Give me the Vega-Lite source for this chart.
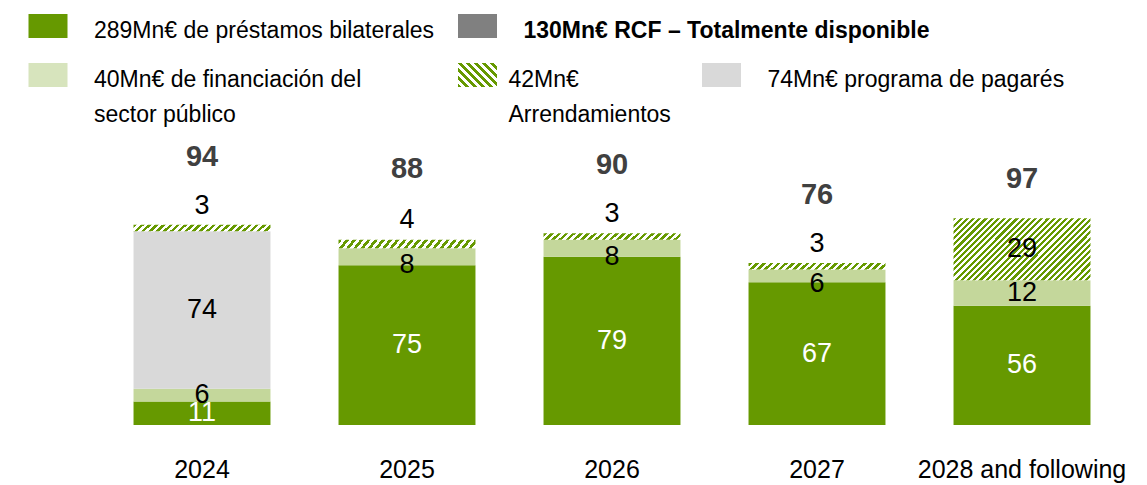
{
  "$schema": "https://vega.github.io/schema/vega-lite/v6.json",
  "width": 1147,
  "height": 425,
  "autosize": {"type": "none"},
  "padding": {"left": 0, "top": 0, "right": 0, "bottom": 60},
  "background": "white",
  "config": {"view": {"stroke": null}, "font": "Liberation Sans", "text": {"font": "Liberation Sans"}},
  "datasets": {
    "segments": [
      {"year": "2024", "cat": "bil", "value": 11},
      {"year": "2024", "cat": "pub", "value": 6},
      {"year": "2024", "cat": "pag", "value": 74},
      {"year": "2024", "cat": "arr", "value": 3},
      {"year": "2025", "cat": "bil", "value": 75},
      {"year": "2025", "cat": "pub", "value": 8},
      {"year": "2025", "cat": "arr", "value": 4},
      {"year": "2026", "cat": "bil", "value": 79},
      {"year": "2026", "cat": "pub", "value": 8},
      {"year": "2026", "cat": "arr", "value": 3},
      {"year": "2027", "cat": "bil", "value": 67},
      {"year": "2027", "cat": "pub", "value": 6},
      {"year": "2027", "cat": "arr", "value": 3},
      {"year": "2028 and following", "cat": "bil", "value": 56},
      {"year": "2028 and following", "cat": "pub", "value": 12},
      {"year": "2028 and following", "cat": "arr", "value": 29}
    ],
    "totals": [
      {"year": "2024", "total": 94},
      {"year": "2025", "total": 88},
      {"year": "2026", "total": 90},
      {"year": "2027", "total": 76},
      {"year": "2028 and following", "total": 97}
    ],
    "legend": [
      {"key": "bil", "label": "289Mn€ de préstamos bilaterales", "col": 1, "row": 1},
      {"key": "rcf", "label": "130Mn€ RCF – Totalmente disponible", "col": 2, "row": 1},
      {"key": "pub", "label": "40Mn€ de financiación del\nsector público", "col": 1, "row": 2},
      {"key": "arr", "label": "42Mn€\nArrendamientos", "col": 2, "row": 2},
      {"key": "pag", "label": "74Mn€ programa de pagarés", "col": 3, "row": 2}
    ]
  },
  "resolve": {"scale": {"x": "independent", "y": "independent", "fill": "independent", "color": "independent"}},
  "layer": [
    {
      "layer": [
        {
          "data": {"name": "segments"},
          "transform": [
            {"calculate": "indexof(['bil','pub','pag','arr'], datum.cat)", "as": "ord"},
            {"stack": "value", "groupby": ["year"], "sort": [{"field": "ord", "order": "ascending"}], "as": ["y0", "y1"]}
          ],
          "mark": {"type": "bar", "strokeWidth": 0},
          "encoding": {
            "x": {
              "field": "year", "type": "nominal",
              "scale": {"domain": ["2024", "2025", "2026", "2027", "2028 and following"], "range": [99.5, 1124.5], "paddingInner": 0.332, "paddingOuter": 0.166},
              "axis": {"title": null, "domain": false, "ticks": false, "tickSize": 0, "grid": false, "labelAngle": 0, "labelFontSize": 25, "labelColor": "black", "labelPadding": 32, "labelFont": "Liberation Sans", "labelLimit": 0, "labelOverlap": false}
            },
            "y": {"field": "y0", "type": "quantitative", "scale": {"domain": [0, 199.5], "zero": false, "nice": false}, "axis": null},
            "y2": {"field": "y1"},
            "fill": {
              "condition": [
                {
                  "test": "datum.cat == 'arr' && datum.value >= 10",
                  "value": {"gradient": "linear", "x1": 0, "y1": 0, "x2": 1.206, "y2": 0.543, "stops": [
                    {"offset": 0, "color": "#669900"}, {"offset": 0.015625, "color": "#669900"}, {"offset": 0.015625, "color": "#ffffff"}, {"offset": 0.03125, "color": "#ffffff"},
                    {"offset": 0.03125, "color": "#669900"}, {"offset": 0.046875, "color": "#669900"}, {"offset": 0.046875, "color": "#ffffff"}, {"offset": 0.0625, "color": "#ffffff"},
                    {"offset": 0.0625, "color": "#669900"}, {"offset": 0.078125, "color": "#669900"}, {"offset": 0.078125, "color": "#ffffff"}, {"offset": 0.09375, "color": "#ffffff"},
                    {"offset": 0.09375, "color": "#669900"}, {"offset": 0.109375, "color": "#669900"}, {"offset": 0.109375, "color": "#ffffff"}, {"offset": 0.125, "color": "#ffffff"},
                    {"offset": 0.125, "color": "#669900"}, {"offset": 0.140625, "color": "#669900"}, {"offset": 0.140625, "color": "#ffffff"}, {"offset": 0.15625, "color": "#ffffff"},
                    {"offset": 0.15625, "color": "#669900"}, {"offset": 0.171875, "color": "#669900"}, {"offset": 0.171875, "color": "#ffffff"}, {"offset": 0.1875, "color": "#ffffff"},
                    {"offset": 0.1875, "color": "#669900"}, {"offset": 0.203125, "color": "#669900"}, {"offset": 0.203125, "color": "#ffffff"}, {"offset": 0.21875, "color": "#ffffff"},
                    {"offset": 0.21875, "color": "#669900"}, {"offset": 0.234375, "color": "#669900"}, {"offset": 0.234375, "color": "#ffffff"}, {"offset": 0.25, "color": "#ffffff"},
                    {"offset": 0.25, "color": "#669900"}, {"offset": 0.265625, "color": "#669900"}, {"offset": 0.265625, "color": "#ffffff"}, {"offset": 0.28125, "color": "#ffffff"},
                    {"offset": 0.28125, "color": "#669900"}, {"offset": 0.296875, "color": "#669900"}, {"offset": 0.296875, "color": "#ffffff"}, {"offset": 0.3125, "color": "#ffffff"},
                    {"offset": 0.3125, "color": "#669900"}, {"offset": 0.328125, "color": "#669900"}, {"offset": 0.328125, "color": "#ffffff"}, {"offset": 0.34375, "color": "#ffffff"},
                    {"offset": 0.34375, "color": "#669900"}, {"offset": 0.359375, "color": "#669900"}, {"offset": 0.359375, "color": "#ffffff"}, {"offset": 0.375, "color": "#ffffff"},
                    {"offset": 0.375, "color": "#669900"}, {"offset": 0.390625, "color": "#669900"}, {"offset": 0.390625, "color": "#ffffff"}, {"offset": 0.40625, "color": "#ffffff"},
                    {"offset": 0.40625, "color": "#669900"}, {"offset": 0.421875, "color": "#669900"}, {"offset": 0.421875, "color": "#ffffff"}, {"offset": 0.4375, "color": "#ffffff"},
                    {"offset": 0.4375, "color": "#669900"}, {"offset": 0.453125, "color": "#669900"}, {"offset": 0.453125, "color": "#ffffff"}, {"offset": 0.46875, "color": "#ffffff"},
                    {"offset": 0.46875, "color": "#669900"}, {"offset": 0.484375, "color": "#669900"}, {"offset": 0.484375, "color": "#ffffff"}, {"offset": 0.5, "color": "#ffffff"},
                    {"offset": 0.5, "color": "#669900"}, {"offset": 0.515625, "color": "#669900"}, {"offset": 0.515625, "color": "#ffffff"}, {"offset": 0.53125, "color": "#ffffff"},
                    {"offset": 0.53125, "color": "#669900"}, {"offset": 0.546875, "color": "#669900"}, {"offset": 0.546875, "color": "#ffffff"}, {"offset": 0.5625, "color": "#ffffff"},
                    {"offset": 0.5625, "color": "#669900"}, {"offset": 0.578125, "color": "#669900"}, {"offset": 0.578125, "color": "#ffffff"}, {"offset": 0.59375, "color": "#ffffff"},
                    {"offset": 0.59375, "color": "#669900"}, {"offset": 0.609375, "color": "#669900"}, {"offset": 0.609375, "color": "#ffffff"}, {"offset": 0.625, "color": "#ffffff"},
                    {"offset": 0.625, "color": "#669900"}, {"offset": 0.640625, "color": "#669900"}, {"offset": 0.640625, "color": "#ffffff"}, {"offset": 0.65625, "color": "#ffffff"},
                    {"offset": 0.65625, "color": "#669900"}, {"offset": 0.671875, "color": "#669900"}, {"offset": 0.671875, "color": "#ffffff"}, {"offset": 0.6875, "color": "#ffffff"},
                    {"offset": 0.6875, "color": "#669900"}, {"offset": 0.703125, "color": "#669900"}, {"offset": 0.703125, "color": "#ffffff"}, {"offset": 0.71875, "color": "#ffffff"},
                    {"offset": 0.71875, "color": "#669900"}, {"offset": 0.734375, "color": "#669900"}, {"offset": 0.734375, "color": "#ffffff"}, {"offset": 0.75, "color": "#ffffff"},
                    {"offset": 0.75, "color": "#669900"}, {"offset": 0.765625, "color": "#669900"}, {"offset": 0.765625, "color": "#ffffff"}, {"offset": 0.78125, "color": "#ffffff"},
                    {"offset": 0.78125, "color": "#669900"}, {"offset": 0.796875, "color": "#669900"}, {"offset": 0.796875, "color": "#ffffff"}, {"offset": 0.8125, "color": "#ffffff"},
                    {"offset": 0.8125, "color": "#669900"}, {"offset": 0.828125, "color": "#669900"}, {"offset": 0.828125, "color": "#ffffff"}, {"offset": 0.84375, "color": "#ffffff"},
                    {"offset": 0.84375, "color": "#669900"}, {"offset": 0.859375, "color": "#669900"}, {"offset": 0.859375, "color": "#ffffff"}, {"offset": 0.875, "color": "#ffffff"},
                    {"offset": 0.875, "color": "#669900"}, {"offset": 0.890625, "color": "#669900"}, {"offset": 0.890625, "color": "#ffffff"}, {"offset": 0.90625, "color": "#ffffff"},
                    {"offset": 0.90625, "color": "#669900"}, {"offset": 0.921875, "color": "#669900"}, {"offset": 0.921875, "color": "#ffffff"}, {"offset": 0.9375, "color": "#ffffff"},
                    {"offset": 0.9375, "color": "#669900"}, {"offset": 0.953125, "color": "#669900"}, {"offset": 0.953125, "color": "#ffffff"}, {"offset": 0.96875, "color": "#ffffff"},
                    {"offset": 0.96875, "color": "#669900"}, {"offset": 0.984375, "color": "#669900"}, {"offset": 0.984375, "color": "#ffffff"}, {"offset": 1, "color": "#ffffff"}
                  ]}
                },
                {
                  "test": "datum.cat == 'arr'",
                  "value": {"gradient": "linear", "x1": 0, "y1": 0, "x2": 1.047, "y2": 0.0524, "stops": [
                    {"offset": 0, "color": "#669900"}, {"offset": 0.025, "color": "#669900"}, {"offset": 0.025, "color": "#ffffff"}, {"offset": 0.05, "color": "#ffffff"},
                    {"offset": 0.05, "color": "#669900"}, {"offset": 0.075, "color": "#669900"}, {"offset": 0.075, "color": "#ffffff"}, {"offset": 0.1, "color": "#ffffff"},
                    {"offset": 0.1, "color": "#669900"}, {"offset": 0.125, "color": "#669900"}, {"offset": 0.125, "color": "#ffffff"}, {"offset": 0.15, "color": "#ffffff"},
                    {"offset": 0.15, "color": "#669900"}, {"offset": 0.175, "color": "#669900"}, {"offset": 0.175, "color": "#ffffff"}, {"offset": 0.2, "color": "#ffffff"},
                    {"offset": 0.2, "color": "#669900"}, {"offset": 0.225, "color": "#669900"}, {"offset": 0.225, "color": "#ffffff"}, {"offset": 0.25, "color": "#ffffff"},
                    {"offset": 0.25, "color": "#669900"}, {"offset": 0.275, "color": "#669900"}, {"offset": 0.275, "color": "#ffffff"}, {"offset": 0.3, "color": "#ffffff"},
                    {"offset": 0.3, "color": "#669900"}, {"offset": 0.325, "color": "#669900"}, {"offset": 0.325, "color": "#ffffff"}, {"offset": 0.35, "color": "#ffffff"},
                    {"offset": 0.35, "color": "#669900"}, {"offset": 0.375, "color": "#669900"}, {"offset": 0.375, "color": "#ffffff"}, {"offset": 0.4, "color": "#ffffff"},
                    {"offset": 0.4, "color": "#669900"}, {"offset": 0.425, "color": "#669900"}, {"offset": 0.425, "color": "#ffffff"}, {"offset": 0.45, "color": "#ffffff"},
                    {"offset": 0.45, "color": "#669900"}, {"offset": 0.475, "color": "#669900"}, {"offset": 0.475, "color": "#ffffff"}, {"offset": 0.5, "color": "#ffffff"},
                    {"offset": 0.5, "color": "#669900"}, {"offset": 0.525, "color": "#669900"}, {"offset": 0.525, "color": "#ffffff"}, {"offset": 0.55, "color": "#ffffff"},
                    {"offset": 0.55, "color": "#669900"}, {"offset": 0.575, "color": "#669900"}, {"offset": 0.575, "color": "#ffffff"}, {"offset": 0.6, "color": "#ffffff"},
                    {"offset": 0.6, "color": "#669900"}, {"offset": 0.625, "color": "#669900"}, {"offset": 0.625, "color": "#ffffff"}, {"offset": 0.65, "color": "#ffffff"},
                    {"offset": 0.65, "color": "#669900"}, {"offset": 0.675, "color": "#669900"}, {"offset": 0.675, "color": "#ffffff"}, {"offset": 0.7, "color": "#ffffff"},
                    {"offset": 0.7, "color": "#669900"}, {"offset": 0.725, "color": "#669900"}, {"offset": 0.725, "color": "#ffffff"}, {"offset": 0.75, "color": "#ffffff"},
                    {"offset": 0.75, "color": "#669900"}, {"offset": 0.775, "color": "#669900"}, {"offset": 0.775, "color": "#ffffff"}, {"offset": 0.8, "color": "#ffffff"},
                    {"offset": 0.8, "color": "#669900"}, {"offset": 0.825, "color": "#669900"}, {"offset": 0.825, "color": "#ffffff"}, {"offset": 0.85, "color": "#ffffff"},
                    {"offset": 0.85, "color": "#669900"}, {"offset": 0.875, "color": "#669900"}, {"offset": 0.875, "color": "#ffffff"}, {"offset": 0.9, "color": "#ffffff"},
                    {"offset": 0.9, "color": "#669900"}, {"offset": 0.925, "color": "#669900"}, {"offset": 0.925, "color": "#ffffff"}, {"offset": 0.95, "color": "#ffffff"},
                    {"offset": 0.95, "color": "#669900"}, {"offset": 0.975, "color": "#669900"}, {"offset": 0.975, "color": "#ffffff"}, {"offset": 1, "color": "#ffffff"}
                  ]}
                }
              ],
              "field": "cat", "type": "nominal",
              "scale": {"domain": ["bil", "pub", "pag", "arr"], "range": ["#669900", "#C4D79B", "#D9D9D9", "#669900"]},
              "legend": null
            }
          }
        },
        {
          "data": {"name": "segments"},
          "transform": [
            {"calculate": "indexof(['bil','pub','pag','arr'], datum.cat)", "as": "ord"},
            {"stack": "value", "groupby": ["year"], "sort": [{"field": "ord", "order": "ascending"}], "as": ["y0", "y1"]},
            {"calculate": "datum.cat == 'arr' && datum.value < 10 ? datum.y1 + 9 : (datum.cat == 'pub' && datum.year != '2024' && datum.value < 10 ? (datum.y0 + datum.y1) / 2 - 4 : (datum.y0 + datum.y1) / 2)", "as": "ly"}
          ],
          "mark": {"type": "text", "fontSize": 27, "baseline": "middle", "align": "center", "font": "Liberation Sans"},
          "encoding": {
            "x": {"field": "year", "type": "nominal"},
            "y": {"field": "ly", "type": "quantitative"},
            "text": {"field": "value", "type": "quantitative"},
            "color": {"condition": {"test": "datum.cat == 'bil'", "value": "#ffffff"}, "value": "#000000"}
          }
        },
        {
          "data": {"name": "totals"},
          "transform": [
            {"calculate": "datum.total + (datum.year == '2028 and following' ? 18.5 : 32)", "as": "ty"}
          ],
          "mark": {"type": "text", "fontSize": 29, "fontWeight": "bold", "baseline": "middle", "align": "center", "color": "#404040", "font": "Liberation Sans"},
          "encoding": {
            "x": {"field": "year", "type": "nominal"},
            "y": {"field": "ty", "type": "quantitative"},
            "text": {"field": "total", "type": "quantitative"}
          }
        }
      ]
    },
    {
      "data": {"name": "legend"},
      "encoding": {
        "x": {"field": "col", "type": "quantitative", "scale": {"domain": [1, 2, 3], "range": [48, 477.5, 721.5], "zero": false, "nice": false}, "axis": null},
        "y": {"field": "row", "type": "quantitative", "scale": {"domain": [1, 2], "range": [26, 75], "zero": false, "nice": false}, "axis": null}
      },
      "layer": [
        {
          "transform": [{"filter": "datum.key != 'arr'"}],
          "mark": {"type": "point", "shape": "M-1,-0.615H1V0.615H-1Z", "filled": true, "size": 1521, "opacity": 1, "strokeWidth": 0},
          "encoding": {
            "fill": {"field": "key", "type": "nominal", "scale": {"domain": ["bil", "rcf", "pub", "pag"], "range": ["#669900", "#808080", "#D7E4BD", "#D9D9D9"]}, "legend": null}
          }
        },
        {
          "transform": [{"filter": "datum.key == 'arr'"}],
          "mark": {"type": "point", "shape": "M-1,-0.615H1V0.615H-1Z", "filled": true, "size": 1521, "opacity": 1, "strokeWidth": 0},
          "encoding": {
            "fill": {"value": {"gradient": "linear", "x1": 0, "y1": 1, "x2": 1.172, "y2": 0.279, "stops": [
              {"offset": 0, "color": "#669900"}, {"offset": 0.0625, "color": "#669900"}, {"offset": 0.0625, "color": "#ffffff"}, {"offset": 0.125, "color": "#ffffff"},
              {"offset": 0.125, "color": "#669900"}, {"offset": 0.1875, "color": "#669900"}, {"offset": 0.1875, "color": "#ffffff"}, {"offset": 0.25, "color": "#ffffff"},
              {"offset": 0.25, "color": "#669900"}, {"offset": 0.3125, "color": "#669900"}, {"offset": 0.3125, "color": "#ffffff"}, {"offset": 0.375, "color": "#ffffff"},
              {"offset": 0.375, "color": "#669900"}, {"offset": 0.4375, "color": "#669900"}, {"offset": 0.4375, "color": "#ffffff"}, {"offset": 0.5, "color": "#ffffff"},
              {"offset": 0.5, "color": "#669900"}, {"offset": 0.5625, "color": "#669900"}, {"offset": 0.5625, "color": "#ffffff"}, {"offset": 0.625, "color": "#ffffff"},
              {"offset": 0.625, "color": "#669900"}, {"offset": 0.6875, "color": "#669900"}, {"offset": 0.6875, "color": "#ffffff"}, {"offset": 0.75, "color": "#ffffff"},
              {"offset": 0.75, "color": "#669900"}, {"offset": 0.8125, "color": "#669900"}, {"offset": 0.8125, "color": "#ffffff"}, {"offset": 0.875, "color": "#ffffff"},
              {"offset": 0.875, "color": "#669900"}, {"offset": 0.9375, "color": "#669900"}, {"offset": 0.9375, "color": "#ffffff"}, {"offset": 1, "color": "#ffffff"}
            ]}}
          }
        },
        {
          "mark": {"type": "text", "align": "left", "baseline": "alphabetic", "dx": {"expr": "datum.key == 'arr' ? 31 : 46"}, "dy": 12, "fontSize": 23, "lineBreak": "\n", "lineHeight": 35, "color": "#000000", "font": "Liberation Sans", "fontWeight": {"expr": "datum.key == 'rcf' ? 'bold' : 'normal'"}},
          "encoding": {
            "text": {"field": "label", "type": "nominal"}
          }
        }
      ]
    }
  ]
}
